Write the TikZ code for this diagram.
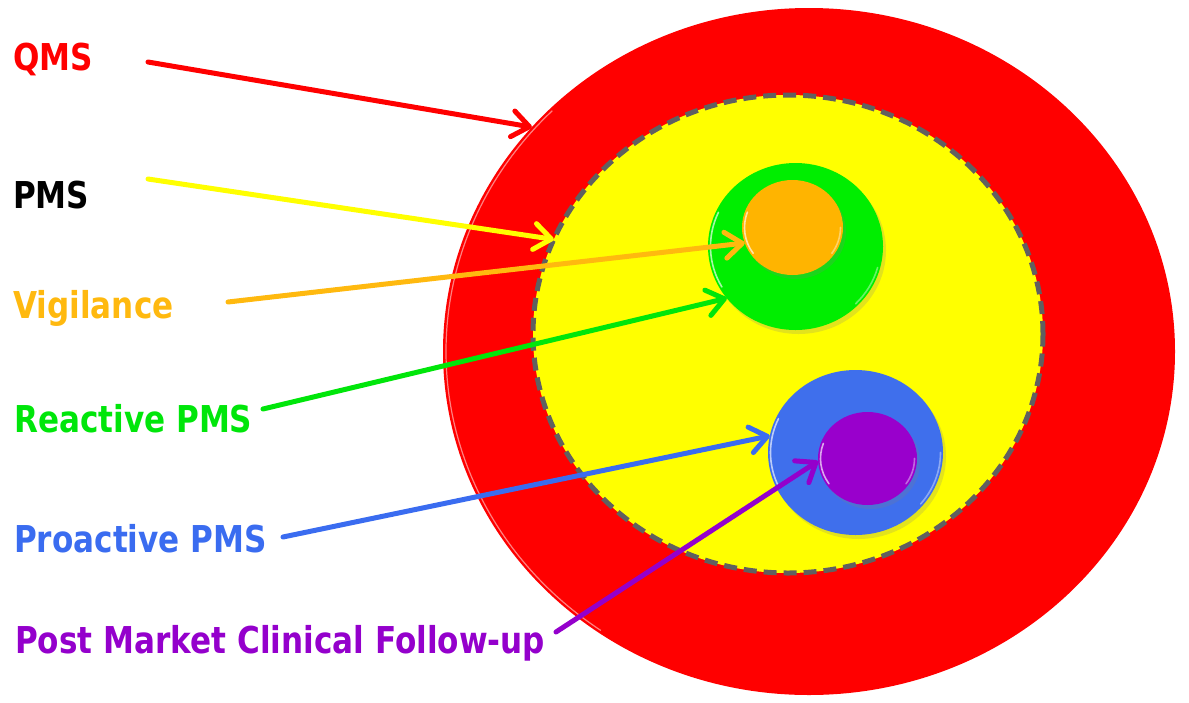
\documentclass[tikz,border=0pt]{standalone}
\usepackage{fontspec}
\newfontfamily\lblfont{DejaVu Sans}[FakeStretch=0.84]
\usetikzlibrary{shapes.geometric,arrows.meta,shadows}
\definecolor{qmsred}{HTML}{FF0000}
\definecolor{pmsyellow}{HTML}{FFFF00}
\definecolor{vigor}{HTML}{FFB90F}
\definecolor{orgfill}{HTML}{FFB400}
\definecolor{reagreen}{HTML}{00E60A}
\definecolor{grnfill}{HTML}{00EE00}
\definecolor{problue}{HTML}{3A6CF0}
\definecolor{blufill}{HTML}{3F6FEC}
\definecolor{pmcfpurple}{HTML}{9400CC}
\definecolor{purfill}{HTML}{9900CC}
\definecolor{dashgray}{HTML}{606060}
\begin{document}
\begin{tikzpicture}[x=1pt,y=-1pt,
  lbl/.style={anchor=base west, inner sep=0pt, font=\lblfont\bfseries\fontsize{37}{44}\selectfont},
  ring/.style={ellipse, inner sep=0pt, outer sep=0pt},
  disc/.style={ring, drop shadow={opacity=0.22, shadow xshift=3pt, shadow yshift=-4pt}},
  arr/.style={line width=5pt, line cap=round, -{Straight Barb[length=17pt,width=26pt,line cap=round,line join=round]}},
  hl/.style={white, line width=1.6pt, opacity=0.65, line cap=round},
]
\useasboundingbox (0,0) rectangle (1189,702);
% circles
\node[ring, fill=qmsred, minimum width=732pt, minimum height=687pt] (qms) at (809,351.5) {};
\draw[white, opacity=0.5, line width=1.2pt] ([shift={(125:363 and 340.5)}]qms.center) arc[start angle=125, end angle=225, x radius=363, y radius=340.5];
\node[ring, fill=pmsyellow, draw=dashgray, line width=5pt, dash pattern=on 13pt off 7pt, minimum width=510pt, minimum height=478pt] (pms) at (788,334) {};
\node[disc, fill=grnfill, minimum width=175pt, minimum height=167pt] (grn) at (795.5,246.5) {};
\draw[hl] ([shift={(150:85 and 81)}]grn.center) arc[start angle=150, end angle=205, x radius=85, y radius=81];
\draw[hl, opacity=0.4] ([shift={(15:85 and 81)}]grn.center) arc[start angle=15, end angle=45, x radius=85, y radius=81];
\node[disc, fill=orgfill, minimum width=101pt, minimum height=95pt] (vig) at (792.5,227.5) {};
\draw[hl] ([shift={(145:48 and 45)}]vig.center) arc[start angle=145, end angle=200, x radius=48, y radius=45];
\draw[hl, opacity=0.4] ([shift={(0:48 and 45)}]vig.center) arc[start angle=0, end angle=35, x radius=48, y radius=45];
\node[disc, fill=blufill, minimum width=175pt, minimum height=165pt] (blu) at (855.5,452.5) {};
\draw[hl] ([shift={(155:85 and 80)}]blu.center) arc[start angle=155, end angle=205, x radius=85, y radius=80];
\draw[hl, opacity=0.4] ([shift={(0:85 and 80)}]blu.center) arc[start angle=0, end angle=40, x radius=85, y radius=80];
\node[disc, fill=purfill, minimum width=99pt, minimum height=93pt] (pur) at (867.5,458.5) {};
\draw[hl] ([shift={(145:47 and 44)}]pur.center) arc[start angle=145, end angle=200, x radius=47, y radius=44];
\draw[hl, opacity=0.4] ([shift={(0:47 and 44)}]pur.center) arc[start angle=0, end angle=35, x radius=47, y radius=44];
% labels
\node[lbl, text=qmsred] (lq) at (13,70) {QMS};
\node[lbl, text=black] (lp) at (13,208) {PMS};
\node[lbl, text=vigor] (lv) at (13,318) {Vigilance};
\node[lbl, text=reagreen] (lr) at (14,432) {Reactive PMS};
\node[lbl, text=problue] (lpr) at (14,552) {Proactive PMS};
\node[lbl, text=pmcfpurple] (lc) at (15,653) {Post Market Clinical Follow-up};
% arrow starts
\coordinate (sq) at (148,62);
\coordinate (sp) at (148,179);
\coordinate (sv) at (228,302);
\coordinate (sr) at (263,409);
\coordinate (spr) at (283,537);
\coordinate (sc) at (556,632);
% arrows
\draw[arr, qmsred] (sq) -- (qms.141);
\draw[arr, pmsyellow] (sp) -- (pms.158);
\draw[arr, vigor] (sv) -- (vig.198);
\draw[arr, reagreen] (sr) -- (grn.217);
\draw[arr, problue] (spr) -- (blu.169);
\draw[arr, pmcfpurple] (sc) -- (pur.183);
\end{tikzpicture}
\end{document}
